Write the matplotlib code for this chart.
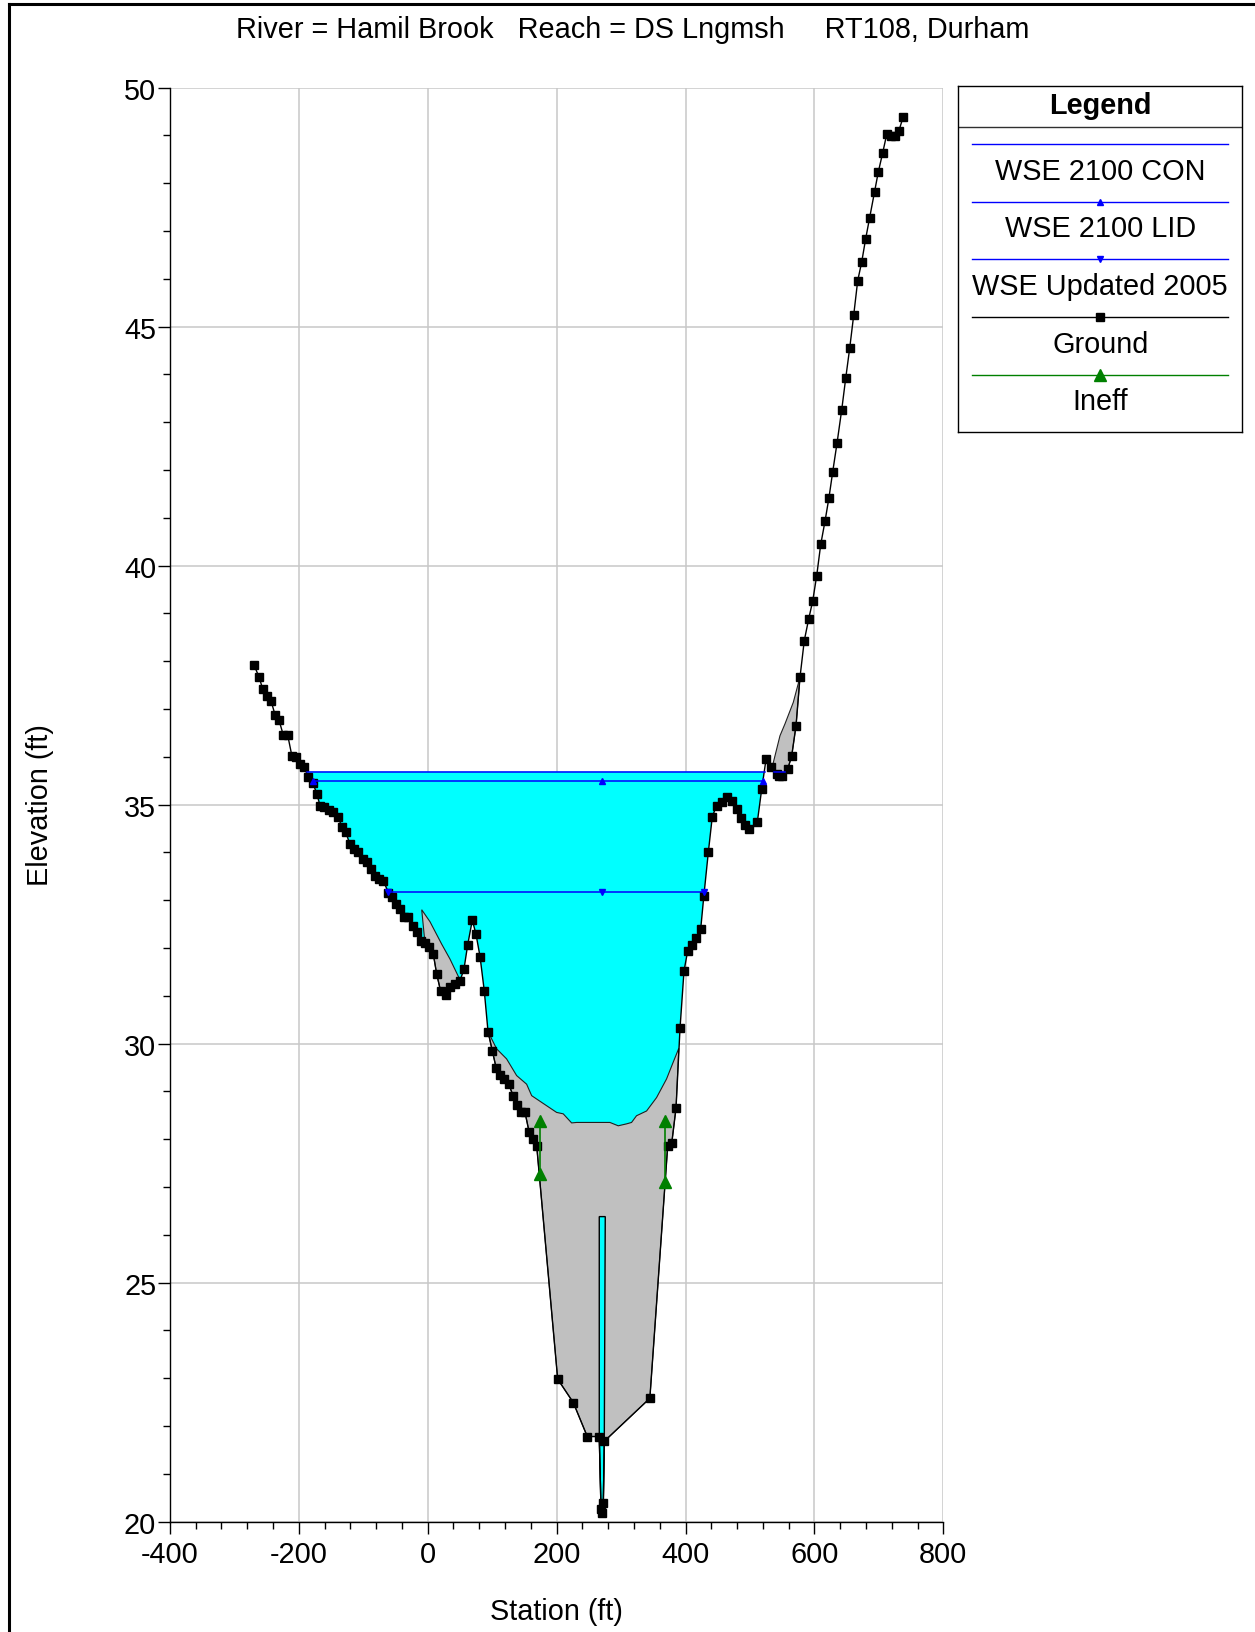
import matplotlib
matplotlib.use("Agg")
import matplotlib.pyplot as plt
from matplotlib.lines import Line2D
from matplotlib.patches import Polygon
from matplotlib.ticker import MultipleLocator
import numpy as np

plt.rcParams['font.family'] = ['Liberation Sans', 'DejaVu Sans']
plt.rcParams['axes.unicode_minus'] = False

""" Cross section data (station ft, elevation ft) """

title = "River = Hamil Brook   Reach = DS Lngmsh     RT108, Durham"

ground_x = [-269.5, -261.8, -256.0, -248.9, -243.1, -236.9, -230.8, -224.0, -217.2, -210.6,
            -204.3, -198.1, -191.9, -185.3, -178.4, -172.2, -167.1, -160.4, -153.1, -146.5,
            -139.6, -132.5, -127.2, -120.6, -114.3, -107.7, -100.8, -94.6, -88.0, -81.8,
            -75.1, -68.9, -61.1, -54.9, -49.6, -43.0, -36.8, -30.1, -23.3, -17.1,
            -10.9, -4.2, 2.5, 8.7, 14.0, 20.2, 28.4, 34.6, 42.3, 50.1,
            56.3, 62.1, 69.2, 74.9, 81.2, 87.8, 93.6, 100.2, 106.4, 112.2,
            118.9, 125.7, 132.8, 138.1, 144.3, 151.0, 157.2, 162.9, 169.1, 201.7,
            225.9, 247.6, 266.2, 268.9, 270.0, 272.5, 274.0, 344.7, 372.4, 378.6,
            385.3, 391.5, 397.7, 403.4, 409.6, 416.3, 423.6, 428.4, 435.4, 441.6,
            448.4, 456.2, 464.9, 471.7, 479.4, 485.6, 492.3, 499.0, 511.4, 518.2,
            525.0, 532.7, 541.5, 545.6, 550.0, 558.6, 564.8, 571.5, 577.7, 584.3,
            591.1, 597.4, 603.6, 609.8, 616.5, 622.6, 628.4, 635.1, 642.4, 648.6,
            654.8, 661.0, 667.2, 673.4, 679.6, 685.8, 693.5, 699.1, 705.9, 712.2,
            718.8, 725.0, 731.2, 737.9]
ground_y = [37.92, 37.67, 37.42, 37.28, 37.17, 36.88, 36.77, 36.45, 36.45, 36.01,
            35.99, 35.84, 35.79, 35.58, 35.46, 35.23, 34.98, 34.94, 34.89, 34.84,
            34.75, 34.52, 34.42, 34.17, 34.07, 34.00, 33.87, 33.79, 33.65, 33.51,
            33.45, 33.41, 33.16, 33.07, 32.92, 32.81, 32.65, 32.64, 32.46, 32.34,
            32.15, 32.10, 32.01, 31.87, 31.45, 31.09, 31.01, 31.18, 31.25, 31.31,
            31.56, 32.07, 32.58, 32.29, 31.82, 31.10, 30.25, 29.85, 29.48, 29.34,
            29.26, 29.15, 28.90, 28.72, 28.56, 28.56, 28.16, 28.00, 27.86, 22.98,
            22.49, 21.78, 21.78, 20.27, 20.19, 20.38, 21.68, 22.58, 27.86, 27.91,
            28.65, 30.32, 31.52, 31.94, 32.07, 32.20, 32.40, 33.08, 34.00, 34.75,
            34.98, 35.05, 35.15, 35.08, 34.91, 34.72, 34.57, 34.49, 34.63, 35.32,
            35.95, 35.78, 35.64, 35.60, 35.60, 35.74, 36.02, 36.65, 37.67, 38.43,
            38.88, 39.26, 39.79, 40.44, 40.93, 41.42, 41.96, 42.56, 43.26, 43.92,
            44.55, 45.24, 45.96, 46.35, 46.84, 47.28, 47.82, 48.23, 48.63, 49.02,
            48.99, 48.98, 49.10, 49.39]

# water surface profiles: elevation, left / middle / right station
wse_con = 35.69
wse_con_x = [-187.4, 523.0]
wse_con_pocket_x = [537.0, 555.0]
wse_lid = 35.50
wse_lid_x = [-178.4, 270.4, 520.5]
wse_2005 = 33.18
wse_2005_x = [-62.1, 270.4, 429.2]

# ineffective flow markers (station, bottom elev, top elev)
ineff_x = [174.2, 368.0]
ineff_lo = [27.27, 27.10]
ineff_hi = [28.39, 28.39]

# gray areas (upper boundary)
left_gray_x = [-9.3, 3.5, 21.7, 34.5, 49.5]
left_gray_y = [32.80, 32.55, 32.08, 31.77, 31.35]
chan_gray_x = [93.6, 106.9, 122.4, 138.0, 153.5, 161.3, 184.5, 200.0, 210.3, 223.3, 231.0,
               282.7, 295.6, 308.5, 316.3, 324.0, 339.6, 355.1, 370.6, 380.9, 389.6]
chan_gray_y = [30.25, 29.89, 29.68, 29.33, 29.15, 28.91, 28.70, 28.56, 28.53, 28.34, 28.35,
               28.35, 28.28, 28.32, 28.35, 28.49, 28.59, 28.87, 29.26, 29.61, 29.90]
right_gray_x = [533.7, 546.6, 554.4, 567.3, 577.7]
right_gray_y = [35.74, 36.44, 36.69, 37.14, 37.67]

# narrow water column in the low channel
col_x = [266.2, 275.5, 274.0, 272.5, 270.0, 268.9, 266.2]
col_y = [26.38, 26.38, 21.68, 20.38, 20.19, 20.27, 21.78]

legend_labels = ["WSE 2100 CON", "WSE 2100 LID", "WSE Updated 2005", "Ground", "Ineff"]

FS = 20.8
CYAN = '#00ffff'
GRAY = '#c0c0c0'
BLUE = '#0000ff'
GREEN = '#008000'

gx = np.array(ground_x)
gy = np.array(ground_y)


def gray_polygon(top_x, top_y):
    """Polygon bounded above by top_x/top_y and below by the ground."""
    inner = (gx > top_x[0]) & (gx < top_x[-1])
    xs = list(top_x) + list(gx[inner][::-1])
    ys = list(top_y) + list(gy[inner][::-1])
    return Polygon(np.column_stack([xs, ys]), closed=True, facecolor=GRAY,
                   edgecolor='#202020', linewidth=0.8, zorder=3)


fig = plt.figure(figsize=(12.55, 16.33), dpi=100)
W, H = 1255.0, 1633.0
ax = fig.add_axes([169.9 / W, 1 - 1522.6 / H, (943.3 - 169.9) / W, (1522.6 - 88.5) / H])

# water fill below highest WSE
sel = (gx > -200) & (gx < 560)
ax.fill_between(gx[sel], gy[sel], wse_con, where=gy[sel] < wse_con, interpolate=True,
                color=CYAN, linewidth=0, zorder=2)

# gray areas
ax.add_patch(gray_polygon(left_gray_x, left_gray_y))
ax.add_patch(gray_polygon(chan_gray_x, chan_gray_y))
ax.add_patch(gray_polygon(right_gray_x, right_gray_y))
ax.add_patch(Polygon(np.column_stack([col_x, col_y]), closed=True, facecolor=CYAN,
                     edgecolor='black', linewidth=1.0, zorder=4))

# ground
ax.plot(ground_x, ground_y, color='black', lw=1.0, marker='s', ms=6, zorder=5)

# water surfaces
ax.plot(wse_con_x, [wse_con] * 2, color=BLUE, lw=1.1, zorder=6)
ax.plot(wse_con_pocket_x, [wse_con] * 2, color=BLUE, lw=1.1, zorder=6)
ax.plot([wse_lid_x[0], wse_lid_x[-1]], [wse_lid] * 2, color=BLUE, lw=1.1, zorder=6)
ax.plot(wse_lid_x, [wse_lid] * 3, ls='none', marker='^', color=BLUE, ms=5, zorder=6)
ax.plot([wse_2005_x[0], wse_2005_x[-1]], [wse_2005] * 2, color=BLUE, lw=1.1, zorder=6)
ax.plot(wse_2005_x, [wse_2005] * 3, ls='none', marker='v', color=BLUE, ms=5, zorder=6)

# ineffective flow
for x, lo, hi in zip(ineff_x, ineff_lo, ineff_hi):
    ax.plot([x, x], [lo, hi], color=GREEN, lw=1.2, marker='^', ms=8.4, zorder=7)

ax.set_xlim(-400, 800)
ax.set_ylim(20, 50)
ax.xaxis.set_major_locator(MultipleLocator(200))
ax.xaxis.set_minor_locator(MultipleLocator(40))
ax.yaxis.set_major_locator(MultipleLocator(5))
ax.yaxis.set_minor_locator(MultipleLocator(1))
ax.grid(True, which='major', color='#c8c8c8', lw=1.1, zorder=0)
ax.set_axisbelow(True)
for s in ['top', 'right']:
    ax.spines[s].set_visible(False)
for s in ['left', 'bottom']:
    ax.spines[s].set_linewidth(1.0)
ax.tick_params(which='major', length=8.4, width=1.0, labelsize=FS)
ax.tick_params(which='minor', length=5, width=1.0)
ax.tick_params(axis='y', which='major', pad=1.5)
ax.tick_params(axis='x', which='major', pad=5)
ax.set_xlabel("Station (ft)", fontsize=FS, labelpad=21)
ax.set_ylabel("Elevation (ft)", fontsize=FS, labelpad=50)

fig.text(633 / W, 1 - 30 / H, title, fontsize=FS, ha='center', va='center')

# figure frame (top and left edges)
fig.add_artist(Line2D([8.5 / W, 1], [1 - 5 / H, 1 - 5 / H], color='black', lw=2.2))
fig.add_artist(Line2D([8.5 / W, 8.5 / W], [0, 1 - 5 / H], color='black', lw=2.2))

# legend box
lw_, lh_ = 284.0, 345.4
lax = fig.add_axes([958.3 / W, 1 - 432.7 / H, lw_ / W, lh_ / H])
lax.set_xlim(0, lw_)
lax.set_ylim(lh_, 0)
lax.set_xticks([])
lax.set_yticks([])
for s in lax.spines.values():
    s.set_linewidth(1.0)
lax.text(lw_ / 2, 19, "Legend", fontsize=FS, fontweight='bold', ha='center', va='center')
lax.plot([0, lw_], [40.4, 40.4], color='#303030', lw=1.0)
styles = [dict(color=BLUE, marker=None),
          dict(color=BLUE, marker='^', ms=5),
          dict(color=BLUE, marker='v', ms=5),
          dict(color='black', marker='s', ms=6),
          dict(color=GREEN, marker='^', ms=8.4)]
for i, (lab, st) in enumerate(zip(legend_labels, styles)):
    ly = 57.7 + i * 57.7
    lax.plot([13.4, 270], [ly, ly], color=st['color'], lw=1.0)
    if st['marker']:
        lax.plot([141.7], [ly], ls='none', marker=st['marker'], ms=st['ms'], color=st['color'])
    lax.text(lw_ / 2, ly + 26.5, lab, fontsize=FS, ha='center', va='center')

fig.savefig("out.png", dpi=100)
